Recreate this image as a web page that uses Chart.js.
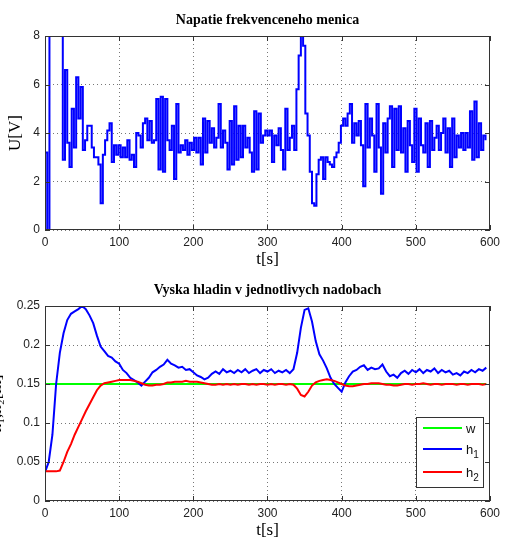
<!DOCTYPE html>
<html>
<head>
<meta charset="utf-8">
<script src="https://cdn.jsdelivr.net/npm/chart.js@4.4.1/dist/chart.umd.min.js"></script>
<style>
  body { margin: 0; background: #fff; }
  #wrap { position: relative; width: 505px; height: 541px; overflow: hidden; }
  canvas { position: absolute; left: 0; }
</style>
</head>
<body>
<div id="wrap">
  <canvas id="voltage" width="505" height="270" style="top:0"></canvas>
  <canvas id="levels" width="505" height="271" style="top:270px"></canvas>
</div>
<script>
// sampled converter voltage, one value every uStep seconds (values above 8 are saturated)
const uStep = 3;
const uValues = [
  3.2, 0, 10, 10, 10, 10, 10, 10, 2.9, 6.6,
  3.6, 2.6, 5.0, 3.4, 6.3, 4.6, 5.9, 3.3, 3.7, 4.3,
  4.3, 3.4, 3.0, 3.0, 2.7, 1.1, 3.1, 3.7, 4.1, 4.4,
  2.8, 3.5, 3.1, 3.5, 3.0, 3.4, 3.0, 3.7, 2.9, 3.1,
  2.6, 4.0, 3.9, 3.4, 4.4, 4.6, 3.7, 4.5, 3.6, 3.7,
  5.4, 2.5, 5.5, 2.4, 5.4, 3.7, 3.3, 4.3, 2.1, 5.2,
  3.2, 3.5, 3.3, 3.7, 3.1, 3.6, 3.3, 3.8, 3.2, 3.8,
  2.7, 4.6, 3.2, 4.5, 3.6, 4.2, 3.4, 3.8, 5.2, 3.4,
  4.1, 3.6, 2.5, 4.5, 2.7, 5.1, 2.9, 4.3, 3.0, 4.3,
  3.4, 3.8, 3.2, 2.4, 4.9, 2.5, 4.8, 3.6, 3.9, 4.1,
  3.9, 4.1, 2.8, 3.9, 3.5, 4.2, 3.3, 2.5, 5.0, 3.3,
  3.8, 4.3, 3.3, 5.8, 7.2, 8.0, 7.6, 4.8, 3.9, 2.4,
  1.1, 1.0, 2.3, 2.9, 3.0, 2.1, 3.0, 2.8, 2.7, 2.6,
  3.0, 3.2, 3.6, 4.3, 4.6, 4.3, 4.8, 5.2, 3.6, 4.4,
  3.9, 4.5, 3.5, 1.8, 5.2, 3.4, 4.6, 3.9, 2.4, 5.2,
  3.4, 1.5, 4.4, 3.2, 4.6, 5.1, 2.6, 5.0, 3.3, 5.1,
  3.2, 4.2, 2.4, 4.5, 3.5, 2.8, 5.0, 2.4, 4.6, 3.5,
  3.2, 4.4, 2.6, 4.5, 3.3, 3.8, 4.3, 3.3, 4.0, 4.6,
  3.2, 4.2, 2.6, 4.6, 3.0, 3.9, 3.4, 4.0, 3.3, 4.0,
  3.4, 4.9, 2.9, 5.3, 3.0, 4.4, 3.3, 3.9, 3.7
];

// tank levels, one value every hStep seconds
const hStep = 5;
const h1Values = [
  0.037, 0.05, 0.085, 0.15, 0.19, 0.215, 0.232, 0.24, 0.243, 0.246,
  0.25, 0.246, 0.238, 0.228, 0.212, 0.198, 0.192, 0.186, 0.184, 0.179,
  0.176, 0.168, 0.164, 0.158, 0.155, 0.152, 0.148, 0.153, 0.158, 0.165,
  0.168, 0.172, 0.175, 0.181, 0.176, 0.174, 0.171, 0.172, 0.168, 0.169,
  0.165, 0.161, 0.159, 0.156, 0.158, 0.163, 0.166, 0.163, 0.169, 0.165,
  0.167, 0.164, 0.168, 0.165, 0.169, 0.164, 0.167, 0.169, 0.164, 0.168,
  0.166, 0.169, 0.164, 0.167, 0.165, 0.168, 0.164, 0.169, 0.19, 0.222,
  0.245, 0.247, 0.23, 0.205, 0.188, 0.18, 0.17, 0.158, 0.15, 0.145,
  0.14, 0.152, 0.16, 0.166, 0.168, 0.172, 0.174, 0.168, 0.171, 0.169,
  0.17, 0.175, 0.166, 0.16, 0.162, 0.158, 0.164, 0.167, 0.163, 0.168,
  0.165, 0.169, 0.164, 0.168, 0.166, 0.17, 0.164, 0.168, 0.165, 0.167,
  0.162, 0.164, 0.161, 0.166, 0.164, 0.168, 0.165, 0.169, 0.167, 0.171
];
const h2Values = [
  0.038, 0.038, 0.038, 0.038, 0.039, 0.05, 0.063, 0.073, 0.085, 0.095,
  0.105, 0.115, 0.124, 0.133, 0.142, 0.148, 0.151, 0.152, 0.153, 0.154,
  0.155, 0.155, 0.155, 0.155, 0.154, 0.153, 0.151, 0.149, 0.148, 0.148,
  0.149, 0.149, 0.15, 0.152, 0.152, 0.153, 0.153, 0.153, 0.154, 0.153,
  0.153, 0.153, 0.152, 0.151, 0.15, 0.149, 0.149, 0.15, 0.149, 0.15,
  0.149, 0.15, 0.149, 0.15, 0.15, 0.149, 0.15, 0.149, 0.15, 0.15,
  0.149, 0.15, 0.149, 0.15, 0.15, 0.149, 0.15, 0.149, 0.144, 0.136,
  0.134, 0.14, 0.148, 0.152, 0.154, 0.155, 0.156, 0.155, 0.154, 0.152,
  0.15, 0.148, 0.147, 0.147, 0.148, 0.149, 0.15, 0.15, 0.151, 0.151,
  0.151, 0.15, 0.149, 0.149, 0.148, 0.148, 0.149, 0.15, 0.15, 0.149,
  0.15, 0.15, 0.151, 0.15, 0.149, 0.15, 0.15, 0.149, 0.15, 0.15,
  0.15, 0.149, 0.15, 0.15, 0.149, 0.15, 0.15, 0.15, 0.149, 0.15
];

// set point
const wTimes = [0, 595];
const wValues = [0.15, 0.15];

const timeTicks = [0, 100, 200, 300, 400, 500, 600];
const uTicks = [0, 2, 4, 6, 8];
const hTicks = [0, 0.05, 0.1, 0.15, 0.2, 0.25];

const series = (values, step) => values.map((v, i) => ({ x: i * step, y: v }));

// box around the axes, inward ticks, titles and axis labels
const framePlugin = {
  id: 'frame',
  afterDatasetsDraw(chart, args, opts) {
    const { ctx, chartArea: a, scales: { x, y } } = chart;
    ctx.save();
    ctx.strokeStyle = '#333';
    ctx.lineWidth = 1;
    ctx.beginPath();
    opts.xTicks.forEach(v => {
      const px = Math.round(x.getPixelForValue(v)) + 0.5;
      ctx.moveTo(px, a.bottom); ctx.lineTo(px, a.bottom - 5);
      ctx.moveTo(px, a.top); ctx.lineTo(px, a.top + 5);
    });
    opts.yTicks.forEach(v => {
      const py = Math.round(y.getPixelForValue(v)) + 0.5;
      ctx.moveTo(a.left, py); ctx.lineTo(a.left + 5, py);
      ctx.moveTo(a.right, py); ctx.lineTo(a.right - 5, py);
    });
    ctx.stroke();
    ctx.strokeRect(Math.round(a.left) + 0.5, Math.round(a.top) + 0.5,
      Math.round(a.right - a.left) - 1, Math.round(a.bottom - a.top) - 1);

    ctx.fillStyle = '#000';
    ctx.textAlign = 'center';
    ctx.textBaseline = 'middle';
    ctx.font = 'bold 14px "Liberation Serif"';
    ctx.fillText(opts.title, (a.left + a.right) / 2, a.top - 16);
    ctx.font = '17px "Liberation Serif"';
    ctx.fillText('t[s]', (a.left + a.right) / 2, a.bottom + 30);

    ctx.translate(opts.yLabelX, (a.top + a.bottom) / 2);
    ctx.rotate(-Math.PI / 2);
    ctx.textBaseline = 'alphabetic';
    ctx.fillText(opts.yLabel, 0, 0);
    ctx.restore();

    if (opts.legend) drawLegend(ctx, opts.legend);
  }
};

function drawLegend(ctx, items) {
  ctx.save();
  ctx.fillStyle = '#fff';
  ctx.fillRect(416, 147, 67, 70);
  ctx.strokeStyle = '#333';
  ctx.lineWidth = 1;
  ctx.strokeRect(416.5, 147.5, 67, 70);
  ctx.textBaseline = 'alphabetic';
  ctx.textAlign = 'left';
  items.forEach((it, i) => {
    const ly = [158, 179, 202][i];
    ctx.strokeStyle = it.color;
    ctx.lineWidth = 2;
    ctx.beginPath();
    ctx.moveTo(423, ly); ctx.lineTo(462, ly);
    ctx.stroke();
    ctx.fillStyle = '#111';
    ctx.font = '13px "Liberation Sans"';
    ctx.fillText(it.name, 466, ly + 5);
    if (it.sub) {
      const w = ctx.measureText(it.name).width;
      ctx.font = '10px "Liberation Sans"';
      ctx.fillText(it.sub, 466 + w, ly + 9);
    }
  });
  ctx.restore();
}

function axes(yMin, yMax, yTickValues) {
  const tickFont = { family: 'Liberation Sans', size: 12 };
  return {
    x: {
      type: 'linear', min: 0, max: 600,
      afterBuildTicks: s => { s.ticks = timeTicks.map(v => ({ value: v })); },
      afterFit: s => { s.height = 40; },
      grid: { color: '#777', drawTicks: false },
      border: { display: false, dash: [1, 3] },
      ticks: { color: '#222', font: tickFont, padding: 5, maxRotation: 0 }
    },
    y: {
      type: 'linear', min: yMin, max: yMax,
      afterBuildTicks: s => { s.ticks = yTickValues.map(v => ({ value: v })); },
      afterFit: s => { s.width = 45; },
      grid: { color: '#777', drawTicks: false },
      border: { display: false, dash: [1, 3] },
      ticks: { color: '#222', font: tickFont, padding: 5, callback: v => String(+v.toFixed(2)) }
    }
  };
}

const common = {
  responsive: false,
  animation: false,
  layout: { padding: { left: 0, right: 11, top: 36, bottom: 0 } },
  elements: { point: { radius: 0 } }
};

new Chart(document.getElementById('voltage'), {
  type: 'line',
  data: {
    datasets: [{
      label: 'U',
      data: series(uValues, uStep),
      borderColor: '#0000ff',
      borderWidth: 2,
      stepped: true
    }]
  },
  options: {
    ...common,
    scales: axes(0, 8, uTicks),
    plugins: {
      legend: { display: false },
      tooltip: { enabled: false },
      frame: {
        title: 'Napatie frekvenceneho menica',
        yLabel: 'U[V]', yLabelX: 19.5,
        xTicks: timeTicks, yTicks: uTicks
      }
    }
  },
  plugins: [framePlugin]
});

new Chart(document.getElementById('levels'), {
  type: 'line',
  data: {
    datasets: [
      { label: 'h2', data: series(h2Values, hStep), borderColor: '#ff0000', borderWidth: 2 },
      { label: 'h1', data: series(h1Values, hStep), borderColor: '#0000ff', borderWidth: 2 },
      { label: 'w', data: wTimes.map((t, i) => ({ x: t, y: wValues[i] })), borderColor: '#00ff00', borderWidth: 2 }
    ]
  },
  options: {
    ...common,
    scales: axes(0, 0.25, hTicks),
    plugins: {
      legend: { display: false },
      tooltip: { enabled: false },
      frame: {
        title: 'Vyska hladin v jednotlivych nadobach',
        yLabel: 'h₁,h₂[m]', yLabelX: 1,
        xTicks: timeTicks, yTicks: hTicks,
        legend: [
          { name: 'w', color: '#00ff00' },
          { name: 'h', sub: '1', color: '#0000ff' },
          { name: 'h', sub: '2', color: '#ff0000' }
        ]
      }
    }
  },
  plugins: [framePlugin]
});
</script>
</body>
</html>
